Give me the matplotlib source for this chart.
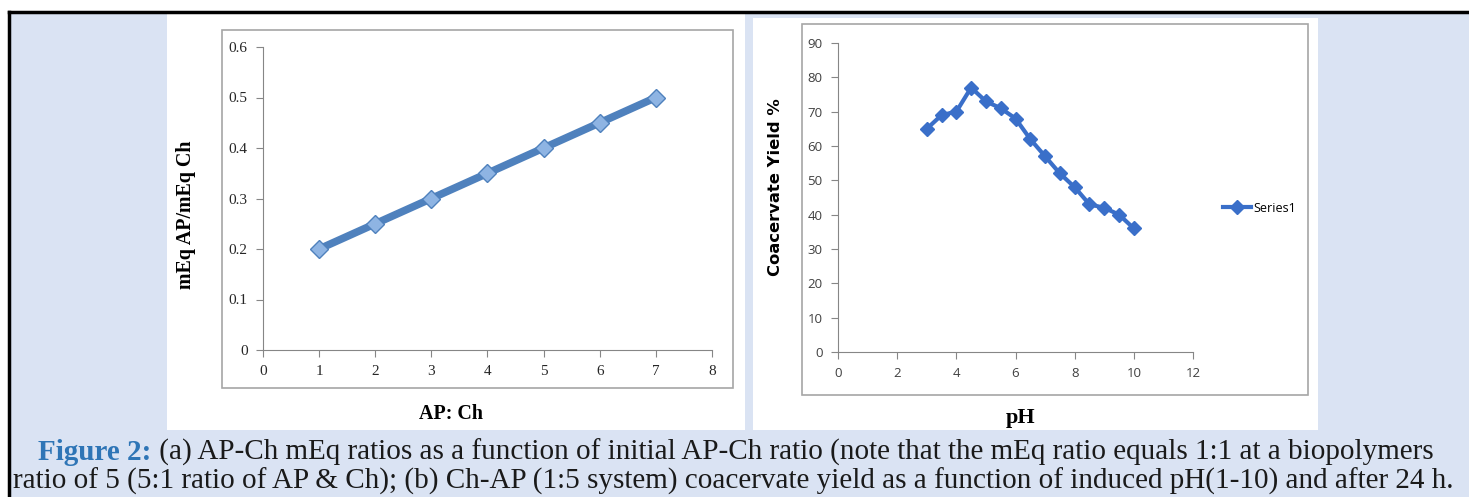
import matplotlib
matplotlib.use('Agg')
import matplotlib.pyplot as plt
from matplotlib.patches import Rectangle
from matplotlib.lines import Line2D

# (a) mEq ratio vs AP:Ch ratio
ratio_x = [1, 2, 3, 4, 5, 6, 7]
meq_ratio = [0.2, 0.25, 0.3, 0.35, 0.4, 0.45, 0.5]

# (b) coacervate yield vs pH
ph_x = [3, 3.5, 4, 4.5, 5, 5.5, 6, 6.5, 7, 7.5, 8, 8.5, 9, 9.5, 10]
yield_pct = [65, 69, 70, 77, 73, 71, 68, 62, 57, 52, 48, 43, 42, 40, 36]

caption_head = 'Figure 2:'
caption_line1 = (' (a) AP-Ch mEq ratios as a function of initial AP-Ch ratio '
                 '(note that the mEq ratio equals 1:1 at a biopolymers')
caption_line2 = ('ratio of 5 (5:1 ratio of AP & Ch); (b) Ch-AP (1:5 system) '
                 'coacervate yield as a function of induced pH(1-10) and after 24 h.')

W, H = 1469, 497
fig = plt.figure(figsize=(W / 100, H / 100), dpi=100, facecolor='white')


def px_rect(x0, y0, x1, y1, **kw):
    # pixel box (top-left origin) -> figure rectangle
    r = Rectangle((x0 / W, 1 - y1 / H), (x1 - x0) / W, (y1 - y0) / H,
                  transform=fig.transFigure, **kw)
    fig.patches.append(r)


def fx(x):
    return x / W


def fy(y):
    return 1 - y / H


# page background and frame
px_rect(10, 13, W, H, facecolor='#dae3f3', edgecolor='none', zorder=-3)
fig.add_artist(Line2D([fx(9), 1], [fy(12), fy(12)], color='black', lw=2.5, transform=fig.transFigure))
fig.add_artist(Line2D([fx(9), fx(9)], [fy(12), 0], color='black', lw=2.5, transform=fig.transFigure))

# white panels and chart borders
px_rect(167, 14, 745, 430, facecolor='white', edgecolor='none', zorder=-2)
px_rect(753, 18, 1318, 430, facecolor='white', edgecolor='none', zorder=-2)
px_rect(222, 30, 733, 388, facecolor='none', edgecolor='#a6a6a6', lw=1.2, zorder=-1)
px_rect(802, 24, 1308, 395, facecolor='none', edgecolor='#a6a6a6', lw=1.2, zorder=-1)

axis_col = '#868686'

# ---- panel (a)
ax1 = fig.add_axes([fx(263), fy(350), (712 - 263) / W, (350 - 47) / H], zorder=2)
ax1.patch.set_alpha(0)
ax1.plot(ratio_x, meq_ratio, color='#4f81bd', lw=5.5, marker='D', markersize=9.5,
         markerfacecolor='#8eb4e3', markeredgecolor='#4f81bd', markeredgewidth=1,
         clip_on=False)
ax1.set_xlim(0, 8)
ax1.set_ylim(0, 0.6)
ax1.set_xticks(range(0, 9))
ax1.set_yticks([0, 0.1, 0.2, 0.3, 0.4, 0.5, 0.6])
ax1.set_yticklabels(['0', '0.1', '0.2', '0.3', '0.4', '0.5', '0.6'])
for lab in ax1.get_xticklabels() + ax1.get_yticklabels():
    lab.set_family('Liberation Serif')
    lab.set_fontsize(11)
    lab.set_color('#262626')

# ---- panel (b)
ax2 = fig.add_axes([fx(838), fy(352), (1193 - 838) / W, (352 - 43) / H], zorder=2)
ax2.patch.set_alpha(0)
ax2.plot(ph_x, yield_pct, color='#3a6fc9', lw=3, marker='D', markersize=7.5,
         markerfacecolor='#3a6fc9', markeredgecolor='#3a6fc9', label='Series1',
         clip_on=False)
ax2.set_xlim(0, 12)
ax2.set_ylim(0, 90)
ax2.set_xticks(range(0, 13, 2))
ax2.set_yticks(range(0, 91, 10))
for lab in ax2.get_xticklabels() + ax2.get_yticklabels():
    lab.set_family('Open Sans')
    lab.set_fontsize(9.5)
    lab.set_color('#404040')
ax2.legend(loc='center left', bbox_to_anchor=((1218 - 838) / 355, (352 - 208) / 309),
           frameon=False, prop={'family': 'Open Sans', 'size': 9},
           handlelength=2.2, handletextpad=0.2, borderaxespad=0)

for ax in (ax1, ax2):
    for s in ('top', 'right'):
        ax.spines[s].set_visible(False)
    for s in ('left', 'bottom'):
        ax.spines[s].set_color(axis_col)
    ax.tick_params(direction='out', length=5, color=axis_col, pad=6)

# axis titles
fig.text(fx(186), fy(215), 'mEq AP/mEq Ch', rotation=90, ha='center', va='center',
         family='Liberation Serif', fontweight='bold', fontsize=14.4)
fig.text(fx(451), fy(414), 'AP: Ch', ha='center', va='center',
         family='Liberation Serif', fontweight='bold', fontsize=14.4)
fig.text(fx(775), fy(187), 'Coacervate Yield %', rotation=90, ha='center', va='center',
         family='DejaVu Sans', fontweight='bold', fontsize=11.8)
fig.text(fx(1021), fy(418), 'pH', ha='center', va='center',
         family='Liberation Serif', fontweight='bold', fontsize=16)

# caption
cap_size = 21
r = fig.canvas.get_renderer()
head = fig.text(0, fy(452), caption_head, color='#2e75b6', fontweight='bold',
                family='Liberation Serif', fontsize=cap_size, va='center')
body = fig.text(0, fy(452), caption_line1, color='#1a1a1a',
                family='Liberation Serif', fontsize=cap_size, va='center')
wh = head.get_window_extent(r).width
wb = body.get_window_extent(r).width
x_start = 736 - (wh + wb) / 2
head.set_x(x_start / W)
body.set_x((x_start + wh) / W)
fig.text(fx(733), fy(481), caption_line2, color='#1a1a1a', ha='center', va='center',
         family='Liberation Serif', fontsize=cap_size)

fig.savefig('out.png', dpi=100, facecolor='white')
